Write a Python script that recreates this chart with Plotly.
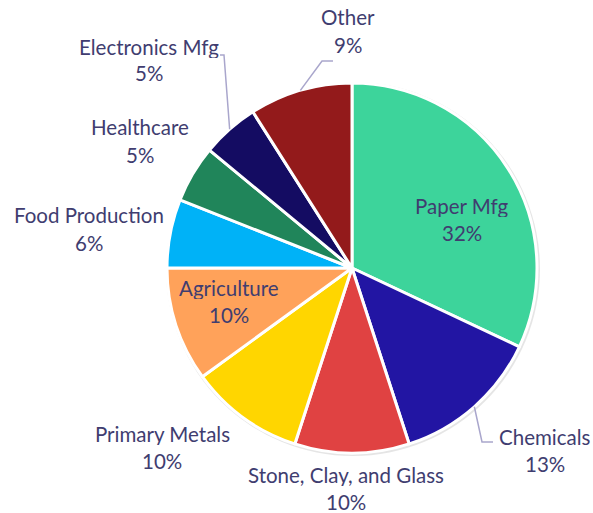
import math
import plotly.graph_objects as go

# Share of total by sector (percent)
sectors = ["Paper Mfg", "Chemicals", "Stone, Clay, and Glass", "Primary Metals",
           "Agriculture", "Food Production", "Healthcare", "Electronics Mfg", "Other"]
shares = [32, 13, 10, 10, 10, 6, 5, 5, 9]
colors = ["#3dd49b", "#2215a3", "#e04242", "#ffd600", "#ffa25a",
          "#00b2f7", "#20855a", "#140c62", "#931a1b"]

W, H = 593, 513
CX, CY, R = 352, 268, 185          # pie centre and radius in pixels
TEXT = "#403d70"
LEADER = "#a9a6cc"
FONT = "Lato"


def px(x):
    return x / W


def py(y):
    return 1 - y / H


# label block centres (pixels), keyed by sector
label_pos = {
    "Paper Mfg": (462, 219),
    "Chemicals": (545, 450),
    "Stone, Clay, and Glass": (346, 488),
    "Primary Metals": (162, 447),
    "Agriculture": (229, 301),
    "Food Production": (89, 229),
    "Healthcare": (140, 141),
    "Electronics Mfg": (149, 60),
    "Other": (348, 31),
}
# leader line elbow and end points for labels set away from their slice
leaders = {
    "Other": [(322, 61), (333, 61)],
    "Electronics Mfg": [(224, 55), (220, 55)],
    "Chemicals": [(482, 442), (493, 442)],
}

fig = go.Figure()

# faint drop shadow behind the pie
fig.add_trace(go.Pie(
    values=[1], labels=["shadow"], sort=False, textinfo="none", hoverinfo="skip",
    marker=dict(colors=["rgba(0,0,0,0.10)"], line=dict(width=0)),
    domain=dict(x=[px(CX - R - 1), px(CX + R + 3)], y=[py(CY + R + 3), py(CY - R - 1)]),
    showlegend=False,
))

fig.add_trace(go.Pie(
    labels=sectors, values=shares, sort=False, direction="clockwise", rotation=0,
    marker=dict(colors=colors, line=dict(color="white", width=3)),
    textinfo="none", hoverinfo="label+percent",
    domain=dict(x=[px(CX - R), px(CX + R)], y=[py(CY + R), py(CY - R)]),
    showlegend=False,
))

total = sum(shares)
cum = 0
shapes = []
annotations = []
for name, v in zip(sectors, shares):
    mid = (cum + v / 2) / total * 2 * math.pi
    cum += v
    lx, ly = label_pos[name]
    for text, dy in ((name, -13.5), (f"{v}%", 13.5)):
        annotations.append(dict(
            x=px(lx), y=py(ly + dy), xref="paper", yref="paper", text=text,
            showarrow=False, xanchor="center", yanchor="middle", height=22,
            font=dict(family=FONT, size=20.5, color=TEXT),
        ))
    if name in leaders:
        sx = CX + R * math.sin(mid)
        sy = CY - R * math.cos(mid)
        pts = [(sx, sy)] + leaders[name]
        path = "M " + " L ".join(f"{px(x):.5f},{py(y):.5f}" for x, y in pts)
        shapes.append(dict(type="path", path=path, xref="paper", yref="paper",
                           line=dict(color=LEADER, width=1.5)))

fig.update_layout(
    width=W, height=H, margin=dict(l=0, r=0, t=0, b=0),
    paper_bgcolor="white", plot_bgcolor="white",
    annotations=annotations, shapes=shapes,
)

fig.write_html("out.html")
